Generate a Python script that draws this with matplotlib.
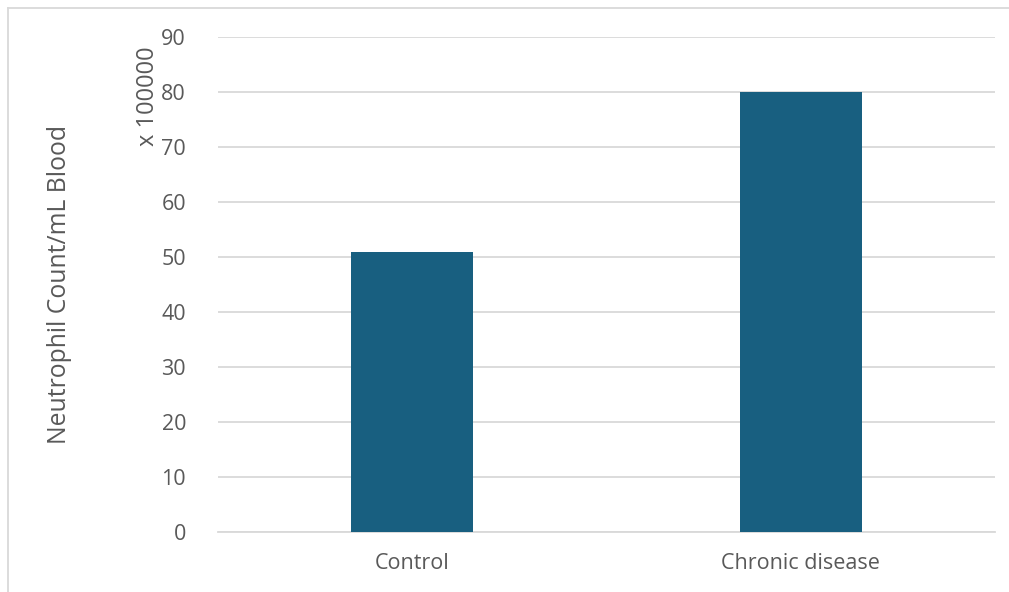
import matplotlib.pyplot as plt
from matplotlib.lines import Line2D

categories = ["Control", "Chronic disease"]
counts = [51, 80]  # x 100000 per mL
yticks = [0, 10, 20, 30, 40, 50, 60, 70, 80, 90]

BAR_COLOR = "#185f80"
TEXT_COLOR = "#595959"
GRID_COLOR = "#d9d9d9"

plt.rcParams['font.family'] = ['Open Sans', 'DejaVu Sans']

W, H = 1009, 592
fig = plt.figure(figsize=(W / 100, H / 100), dpi=100)
ax = fig.add_axes([218 / W, 1 - 532 / H, (995 - 218) / W, (532 - 37) / H])

x = range(len(categories))
ax.bar(x, counts, width=0.314, color=BAR_COLOR, zorder=3)

ax.set_xlim(-0.5, len(categories) - 0.5)
ax.set_ylim(0, 90)
ax.set_yticks(yticks)
ax.set_xticks(list(x))
ax.set_xticklabels(categories)
ax.yaxis.grid(True, color=GRID_COLOR, linewidth=1.3, zorder=0)
ax.tick_params(axis='both', length=0, labelsize=15.5, colors=TEXT_COLOR)
ax.tick_params(axis='y', pad=23)
ax.tick_params(axis='x', pad=15)
for side in ["top", "right", "left"]:
    ax.spines[side].set_visible(False)
ax.spines["bottom"].set_color(GRID_COLOR)
ax.spines["bottom"].set_linewidth(1.3)

# axis title and unit label
fig.text(60 / W, 1 - 284 / H, "Neutrophil Count/mL Blood", rotation=90,
         ha='center', va='center', fontsize=17.8, color=TEXT_COLOR)
fig.text(148 / W, 1 - 96 / H, "x 100000", rotation=90,
         ha='center', va='center', fontsize=17, color=TEXT_COLOR)

# chart frame (top and left edges)
fig.add_artist(Line2D([7.5 / W, 7.5 / W], [0, 1 - 7.5 / H],
                      color=GRID_COLOR, linewidth=1.3, transform=fig.transFigure))
fig.add_artist(Line2D([7.5 / W, 1], [1 - 7.5 / H, 1 - 7.5 / H],
                      color=GRID_COLOR, linewidth=1.3, transform=fig.transFigure))

fig.savefig("out.png", dpi=100)
